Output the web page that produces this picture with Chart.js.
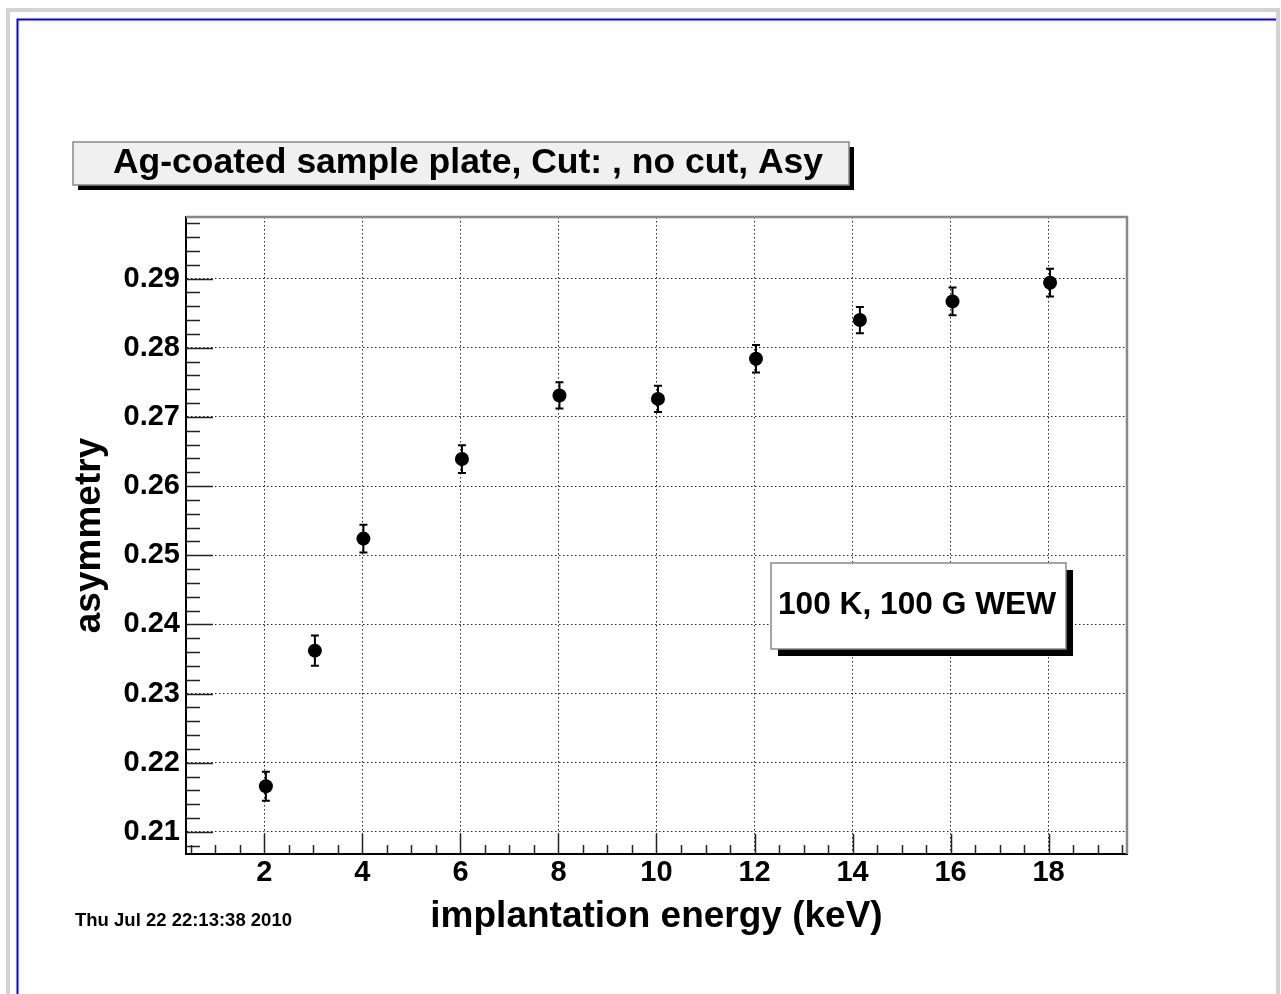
<!DOCTYPE html>
<html>
<head>
<meta charset="utf-8">
<title>Ag-coated sample plate - asymmetry</title>
<script src="https://cdn.jsdelivr.net/npm/chart.js@4.4.0/dist/chart.umd.min.js"></script>
<style>
  html, body { margin: 0; padding: 0; background: #fff; }
  canvas { display: block; }
</style>
</head>
<body>
<canvas id="asyChart" width="1281" height="994"></canvas>
<script>
/* -------------------------------
   DATA
--------------------------------*/
const energies  = [2.03, 3.03, 4.02, 6.03, 8.02, 10.03, 12.03, 14.15, 16.04, 18.03];
const asymmetry = [0.2166, 0.2362, 0.2524, 0.2639, 0.2731, 0.2726, 0.2784, 0.2840, 0.2867, 0.2894];
const asyErrors = [0.0021, 0.0022, 0.0020, 0.0020, 0.0019, 0.0019, 0.0020, 0.0019, 0.0020, 0.0020];

const xTicks = [2, 4, 6, 8, 10, 12, 14, 16, 18];
const yTicks = [0.21, 0.22, 0.23, 0.24, 0.25, 0.26, 0.27, 0.28, 0.29];
const xRange = [0.4, 19.6];
const yRange = [0.2068, 0.2989];

const titleText  = "Ag-coated sample plate, Cut: , no cut, Asy";
const legendText = "100 K, 100 G WEW";
const dateText   = "Thu Jul 22 22:13:38 2010";
const xTitle     = "implantation energy (keV)";
const yTitle     = "asymmetry";

const FONT = "'Liberation Sans', Arial, Helvetica, sans-serif";

/* -------------------------------
   HELPERS
--------------------------------*/
function shadowBox(ctx, x, y, w, h, fill, off) {
  ctx.fillStyle = "#000";
  ctx.fillRect(x + off, y + off, w, h);
  ctx.fillStyle = fill;
  ctx.fillRect(x, y, w, h);
  ctx.strokeStyle = "#888";
  ctx.lineWidth = 1.5;
  ctx.strokeRect(x, y, w, h);
}

/* -------------------------------
   ROOT-LIKE DECORATIONS
--------------------------------*/
const rootStyle = {
  id: "rootStyle",
  beforeDraw(chart) {
    const ctx = chart.ctx;
    ctx.save();
    ctx.fillStyle = "#fff";
    ctx.fillRect(0, 0, chart.width, chart.height);
    // grey outer frame
    ctx.strokeStyle = "#d3d3d3";
    ctx.lineWidth = 4;
    ctx.strokeRect(8, 10, 1270, 1010);
    // blue pad border
    ctx.strokeStyle = "#0000ff";
    ctx.lineWidth = 2;
    ctx.beginPath();
    ctx.moveTo(17.5, 994);
    ctx.lineTo(17.5, 19.5);
    ctx.lineTo(1276, 19.5);
    ctx.stroke();
    ctx.restore();
  },
  beforeDatasetsDraw(chart) {
    // error bars under the markers
    const ctx = chart.ctx;
    const xs = chart.scales.x, ys = chart.scales.y;
    ctx.save();
    ctx.strokeStyle = "#000";
    ctx.lineWidth = 2;
    energies.forEach((e, i) => {
      const px = xs.getPixelForValue(e);
      const top = ys.getPixelForValue(asymmetry[i] + asyErrors[i]);
      const bot = ys.getPixelForValue(asymmetry[i] - asyErrors[i]);
      ctx.beginPath();
      ctx.moveTo(px, top); ctx.lineTo(px, bot);
      ctx.moveTo(px - 4, top); ctx.lineTo(px + 4, top);
      ctx.moveTo(px - 4, bot); ctx.lineTo(px + 4, bot);
      ctx.stroke();
    });
    ctx.restore();
  },
  afterDraw(chart) {
    const ctx = chart.ctx;
    const a = chart.chartArea;
    const xs = chart.scales.x, ys = chart.scales.y;
    ctx.save();

    // top / right frame of the plot
    ctx.strokeStyle = "#888";
    ctx.lineWidth = 2.5;
    ctx.beginPath();
    ctx.moveTo(a.left, a.top);
    ctx.lineTo(a.right, a.top);
    ctx.lineTo(a.right, a.bottom);
    ctx.stroke();

    // inward ticks, x axis
    ctx.strokeStyle = "#222";
    ctx.lineWidth = 1.5;
    ctx.beginPath();
    for (let v = 0.5; v < xRange[1]; v += 0.5) {
      const px = Math.round(xs.getPixelForValue(v)) + 0.5;
      const len = (v % 2 === 0) ? 20 : 9;
      ctx.moveTo(px, a.bottom);
      ctx.lineTo(px, a.bottom - len);
    }
    // inward ticks, y axis
    for (let k = 104; k * 0.002 < yRange[1]; k++) {
      const v = k * 0.002;
      const py = Math.round(ys.getPixelForValue(v)) + 0.5;
      const len = (k % 5 === 0) ? 27 : 14;
      ctx.moveTo(a.left, py);
      ctx.lineTo(a.left + len, py);
    }
    ctx.stroke();

    // title box
    shadowBox(ctx, 73, 142, 776, 43, "#f0f0f0", 5);
    ctx.fillStyle = "#000";
    ctx.font = "bold 35.5px " + FONT;
    ctx.textAlign = "center";
    ctx.textBaseline = "middle";
    ctx.fillText(titleText, 468, 163);

    // legend box
    shadowBox(ctx, 771, 563, 295, 86, "#fff", 7);
    ctx.fillStyle = "#000";
    ctx.font = "bold 31.7px " + FONT;
    ctx.fillText(legendText, 917, 605);

    // date stamp
    ctx.font = "bold 18.5px " + FONT;
    ctx.textAlign = "left";
    ctx.fillText(dateText, 75, 921);

    ctx.restore();
  }
};

/* -------------------------------
   CHART
--------------------------------*/
const ctx = document.getElementById("asyChart");

new Chart(ctx, {
  type: "scatter",
  data: {
    datasets: [{
      label: yTitle,
      data: energies.map((e, i) => ({ x: e, y: asymmetry[i] })),
      backgroundColor: "#000",
      borderWidth: 0,
      pointRadius: 7,
      pointHoverRadius: 7
    }]
  },
  options: {
    responsive: false,
    animation: false,
    events: [],
    layout: { padding: { left: 0, top: 217, right: 154, bottom: 0 } },
    plugins: {
      legend: { display: false },
      tooltip: { enabled: false }
    },
    scales: {
      x: {
        type: "linear",
        min: xRange[0],
        max: xRange[1],
        afterBuildTicks: s => { s.ticks = xTicks.map(v => ({ value: v })); },
        afterFit: s => { s.height = 140; },
        grid: { color: "#222", lineWidth: 1, drawTicks: false },
        border: { display: true, color: "#000", width: 2, dash: [1.5, 2.5] },
        ticks: {
          color: "#000",
          padding: 2,
          font: { family: FONT, size: 29, weight: "bold" },
          callback: v => String(v)
        },
        title: {
          display: true,
          text: xTitle,
          color: "#000",
          font: { family: FONT, size: 37, weight: "bold" },
          padding: { top: 0, bottom: 55 }
        }
      },
      y: {
        type: "linear",
        min: yRange[0],
        max: yRange[1],
        afterBuildTicks: s => { s.ticks = yTicks.map(v => ({ value: v })); },
        afterFit: s => { s.width = 186; },
        grid: { color: "#222", lineWidth: 1, drawTicks: false },
        border: { display: true, color: "#000", width: 2, dash: [1.5, 2.5] },
        ticks: {
          color: "#000",
          padding: 6,
          font: { family: FONT, size: 29, weight: "bold" },
          callback: v => Number(v).toFixed(2)
        },
        title: {
          display: true,
          text: yTitle,
          color: "#000",
          font: { family: FONT, size: 37, weight: "bold" },
          padding: { top: 68, bottom: 0 }
        }
      }
    }
  },
  plugins: [rootStyle]
});
</script>
</body>
</html>
